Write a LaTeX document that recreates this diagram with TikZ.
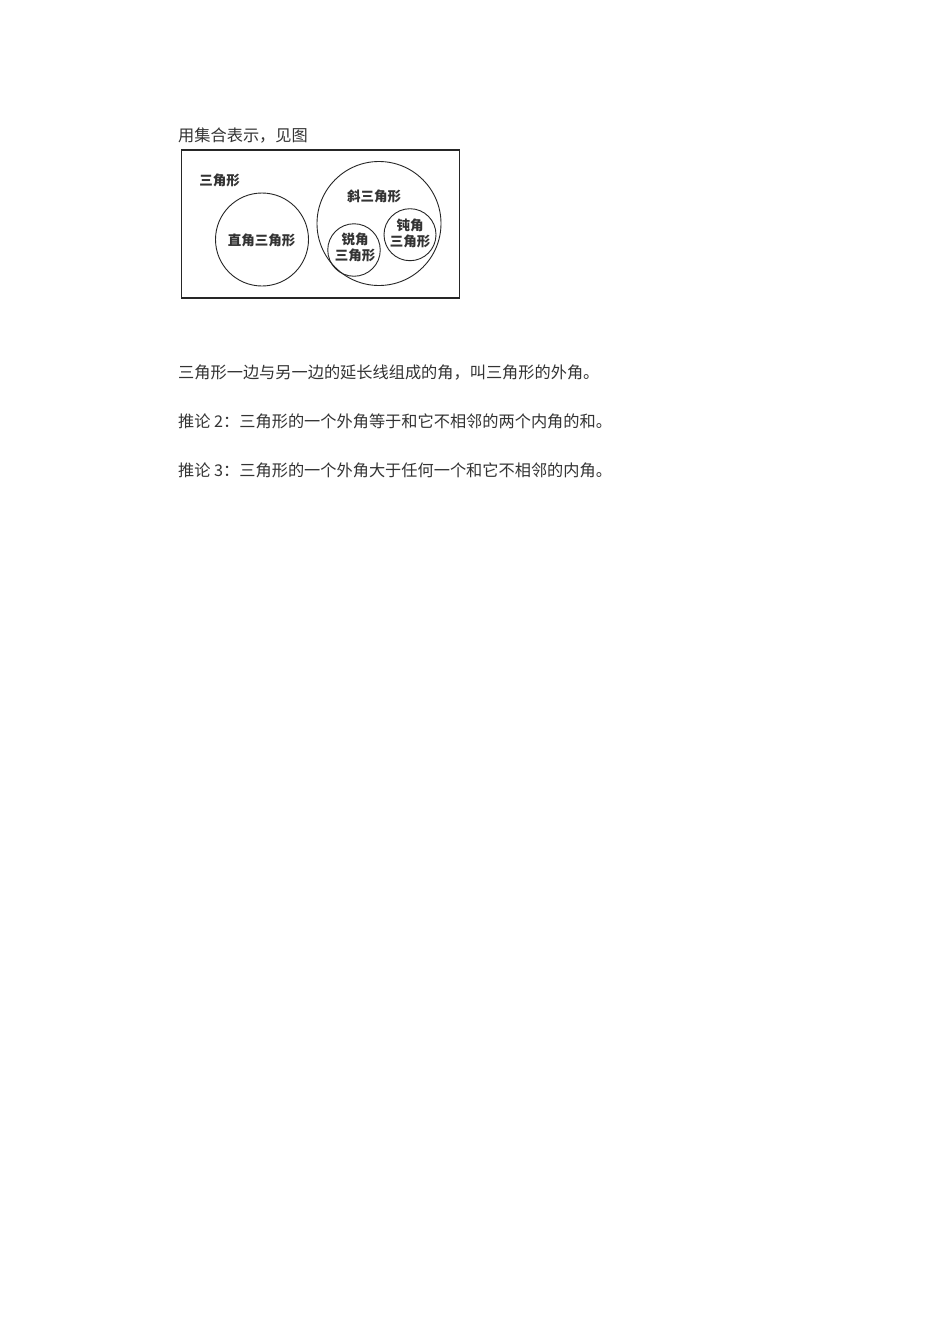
\documentclass[tikz,border=0pt]{standalone}
\usepackage{fontspec}
\setmainfont{Noto Sans CJK SC}
\begin{document}
\begin{tikzpicture}[x=1pt,y=-1pt,
  body/.style={anchor=west,inner sep=0pt,font=\fontsize{16.2}{16.2}\selectfont,text=black!80},
  lab/.style={inner sep=0pt,align=center,font=\fontsize{13.5}{16.5}\selectfont\bfseries,text=black!80},
  ring/.style={draw=black!85,line width=0.9pt}]
\useasboundingbox[fill=white] (0,0) rectangle (950,1344);
\node[body] (title) at (178,136) {用集合表示，见图};
\node[draw=black!85,line width=1.1pt,minimum width=278pt,minimum height=148pt,inner sep=0pt] (box) at (320.5,224) {};
\node[lab] (tri) at (219.5,180) {三角形};
\node[ring,circle,minimum size=93pt,inner sep=0pt] (right) at (262,239.5) {};
\node[lab] (rightlab) at (261.5,240) {直角三角形};
\node[ring,circle,minimum size=124pt,inner sep=0pt] (obl) at (379,223.5) {};
\node[lab] (obllab) at (374,196) {斜三角形};
\node[ring,circle,minimum size=52.5pt,inner sep=0pt] (acute) at (354,250) {};
\node[lab] (acutelab) at (355,247.5) {锐角\\三角形};
\node[ring,circle,minimum size=52pt,inner sep=0pt] (obtuse) at (410,234.7) {};
\node[lab] (obtuselab) at (410,233.5) {钝角\\三角形};
\node[body] (l1) at (178,373) {三角形一边与另一边的延长线组成的角，叫三角形的外角。};
\node[body] (l2) at (178,421.5) {推论\ 2：三角形的一个外角等于和它不相邻的两个内角的和。};
\node[body] (l3) at (178,470.5) {推论\ 3：三角形的一个外角大于任何一个和它不相邻的内角。};
\end{tikzpicture}
\end{document}
